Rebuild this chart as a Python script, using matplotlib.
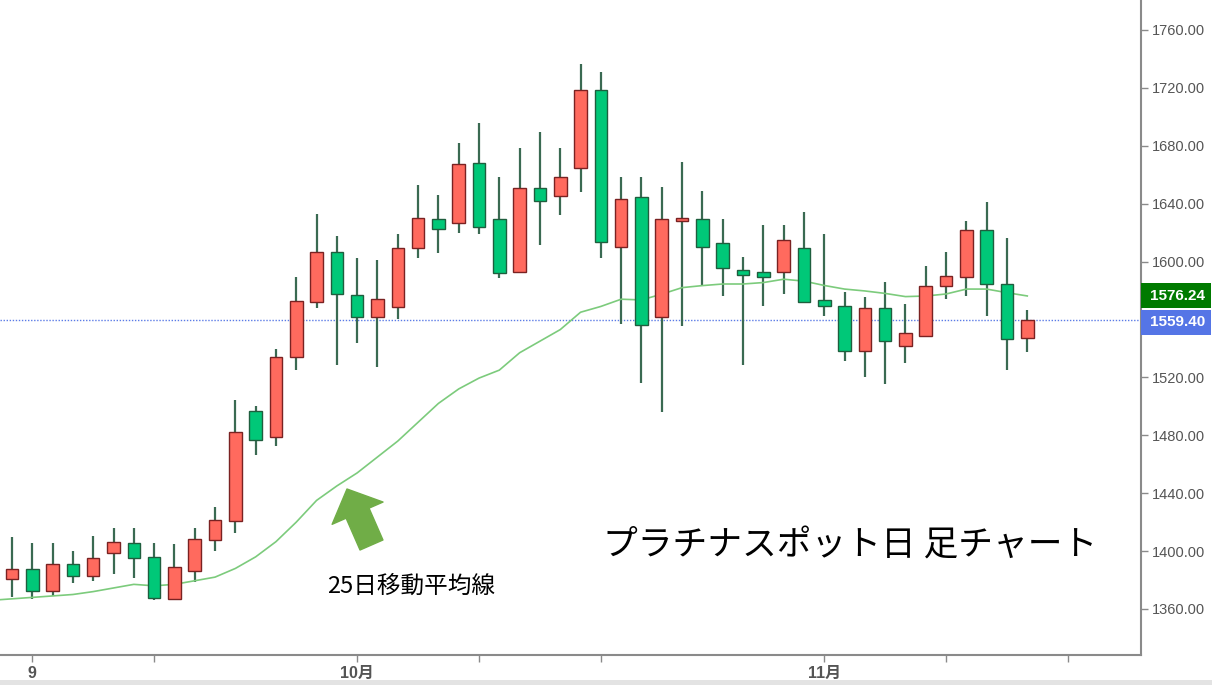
import numpy as np
import matplotlib
matplotlib.use('Agg')
import matplotlib.pyplot as plt
from matplotlib.patches import Rectangle, FancyArrowPatch

plt.rcParams['font.family'] = ['Liberation Sans', 'Noto Sans CJK JP', 'DejaVu Sans']

# Daily OHLC values (one entry per trading day)
open_ = [1380.7, 1387.6, 1372.4, 1391.1, 1382.8, 1398.5, 1405.4, 1396.2, 1366.7, 1386.2,
         1407.7, 1421.0, 1496.8, 1479.0, 1534.3, 1572.3, 1606.4, 1576.9, 1561.9, 1568.8,
         1609.2, 1629.2, 1626.9, 1668.3, 1629.2, 1593.0, 1651.1, 1645.3, 1664.9, 1718.5,
         1610.3, 1644.4, 1561.5, 1627.8, 1629.2, 1612.6, 1594.2, 1593.0, 1593.0, 1609.6,
         1573.5, 1569.5, 1538.5, 1568.1, 1541.9, 1548.6, 1583.1, 1589.6, 1621.8, 1584.5,
         1547.0]
high = [1410.0, 1405.4, 1405.4, 1400.1, 1410.6, 1416.2, 1416.2, 1405.4, 1404.7, 1416.2,
        1430.7, 1504.4, 1500.2, 1539.4, 1589.1, 1632.7, 1617.7, 1602.3, 1601.1, 1618.9,
        1652.9, 1645.8, 1681.7, 1696.0, 1658.7, 1678.3, 1689.3, 1678.7, 1736.5, 1730.8,
        1658.7, 1658.7, 1651.3, 1668.6, 1649.0, 1629.4, 1603.4, 1625.3, 1625.3, 1634.0,
        1618.9, 1578.8, 1575.3, 1586.1, 1570.7, 1596.9, 1606.4, 1628.3, 1641.4, 1616.5,
        1566.6]
low = [1368.5, 1366.7, 1369.2, 1378.2, 1379.3, 1383.9, 1381.6, 1366.2, 1366.0, 1378.9,
       1400.1, 1412.3, 1466.4, 1472.8, 1525.1, 1567.7, 1528.6, 1543.6, 1527.4, 1560.1,
       1602.7, 1605.7, 1620.0, 1618.9, 1588.5, 1592.5, 1611.5, 1632.0, 1648.1, 1602.7,
       1556.7, 1515.9, 1496.3, 1555.7, 1583.4, 1576.4, 1528.6, 1569.5, 1577.6, 1571.5,
       1562.4, 1531.5, 1520.5, 1515.4, 1529.7, 1548.0, 1574.2, 1576.4, 1562.4, 1525.1,
       1537.3]
close = [1387.6, 1372.4, 1390.9, 1383.0, 1395.4, 1406.1, 1395.0, 1367.4, 1388.8, 1408.4,
         1421.5, 1482.1, 1476.8, 1534.3, 1572.6, 1606.4, 1577.6, 1561.9, 1573.9, 1609.6,
         1630.3, 1622.5, 1667.2, 1623.7, 1592.3, 1651.1, 1642.1, 1658.7, 1718.5, 1613.8,
         1643.2, 1556.0, 1629.2, 1630.3, 1610.3, 1595.4, 1590.7, 1589.6, 1614.9, 1572.3,
         1569.3, 1538.5, 1568.1, 1545.1, 1550.9, 1583.4, 1590.1, 1621.8, 1584.3, 1546.3,
         1559.4]

# 25-day moving average (first value is the day before the first visible candle)
ma25 = [1366.0, 1367.0, 1368.0, 1369.0, 1370.0, 1372.0, 1374.5, 1377.0, 1376.0, 1377.0, 1379.5,
        1382.0, 1388.0, 1396.0, 1406.5, 1420.0, 1435.0, 1445.0, 1454.0, 1465.0, 1476.0,
        1489.0, 1502.0, 1512.0, 1519.5, 1525.0, 1537.0, 1545.0, 1553.0, 1565.0, 1569.0,
        1574.0, 1573.5, 1577.5, 1582.0, 1583.4, 1584.5, 1584.5, 1585.5, 1587.8, 1586.5,
        1583.5, 1581.0, 1579.7, 1578.0, 1575.8, 1576.2, 1577.6, 1581.0, 1581.0, 1578.5,
        1576.24]

last_price = 1559.40
last_ma = 1576.24

# x axis ticks (trading-day index) and their labels
tick_pos = [1, 7, 17, 23, 29, 40, 46, 52]
tick_labels = ['9', '', '10月', '', '', '11月', '', '']
# 1560 is hidden behind the price box in the original, so it is left out
y_ticks = [1360, 1400, 1440, 1480, 1520, 1600, 1640, 1680, 1720, 1760]

title_text = 'プラチナスポット日 足チャート'
ma_text = '25日移動平均線'

up_color, up_edge = '#ff6a5e', '#7a2222'
down_color, down_edge = '#00c878', '#1f5e3e'
wick_color = '#3a6a52'

fig = plt.figure(figsize=(12.12, 6.85), dpi=100)
ax = fig.add_axes([0.0, 30 / 685, 1141 / 1212, 1 - 30 / 685])

o = np.array(open_)
c = np.array(close)
h = np.array(high)
l = np.array(low)
x = np.arange(len(o))
up = c >= o

# wicks first, then bodies on top
ax.vlines(x, l, h, color=wick_color, linewidth=1.6, zorder=2)
ax.bar(x[up], c[up] - o[up], bottom=o[up], width=0.62, color=up_color,
       edgecolor=up_edge, linewidth=1.0, zorder=3)
ax.bar(x[~up], o[~up] - c[~up], bottom=c[~up], width=0.62, color=down_color,
       edgecolor=down_edge, linewidth=1.0, zorder=3)

# moving average line
ma_x = np.arange(-1, len(ma25) - 1)
ax.plot(ma_x, ma25, color='#7ccb7c', linewidth=1.2, zorder=2)

# last price dotted line
ax.axhline(last_price, color='#5b7be6', linestyle=(0, (1, 1.2)), linewidth=1.0, zorder=1)

ax.set_xlim(-0.59, 55.6)
ax.set_ylim(1328.2, 1780.7)

# axes styling: only right and bottom frame
for side in ['top', 'left']:
    ax.spines[side].set_visible(False)
for side in ['right', 'bottom']:
    ax.spines[side].set_color('#8a8a8a')
    ax.spines[side].set_linewidth(1.5)

ax.yaxis.tick_right()
ax.set_yticks(y_ticks)
ax.set_yticklabels([f'{v:.2f}' for v in y_ticks])
ax.tick_params(axis='y', colors='#8a8a8a', labelcolor='#555555', labelsize=10.5,
               length=5, width=1, pad=3)
ax.set_xticks(tick_pos)
ax.set_xticklabels(tick_labels, fontweight='bold')
ax.tick_params(axis='x', colors='#8a8a8a', labelcolor='#555555', labelsize=11.5,
               length=5, width=1, pad=3)

# price boxes on the right axis
ytr = ax.get_yaxis_transform()
box_w = 70 / 1141
box_h = 25 / 1.4475
for val, box_c, col in [(last_ma, last_ma, '#007a00'), (last_price, last_price - 1.45, '#5575e6')]:
    ax.add_patch(Rectangle((1.0, box_c - box_h / 2), box_w, box_h, transform=ytr,
                           facecolor=col, edgecolor='none', clip_on=False, zorder=5))
    ax.text(1.0 + box_w / 2 + 0.001, box_c, f'{val:.2f}', transform=ytr, ha='center', va='center',
            color='white', fontsize=11, fontweight='bold', zorder=6, clip_on=False)

# annotations
ax.text(0.745, 0.1656, title_text, transform=ax.transAxes, ha='center', va='center',
        fontsize=25, family=['Noto Sans CJK JP', 'DejaVu Sans'], color='black')
ax.text(0.3607, 0.1046, ma_text, transform=ax.transAxes, ha='center', va='center',
        fontsize=17, family=['Noto Sans CJK JP', 'DejaVu Sans'], color='black')
arrow = FancyArrowPatch((371.5 / 1141, 1 - 545 / 655), (347 / 1141, 1 - 489 / 655),
                        transform=ax.transAxes,
                        arrowstyle='simple,head_width=40,head_length=19,tail_width=18',
                        mutation_scale=1, shrinkA=0, shrinkB=0,
                        color='#70ad47', zorder=4)
ax.add_patch(arrow)

# light grey strip at the very bottom of the picture
fig.patches.append(Rectangle((0, 0), 1, 5 / 685, transform=fig.transFigure,
                             facecolor='#e3e3e3', edgecolor='none'))

plt.savefig('out.png', dpi=100)
